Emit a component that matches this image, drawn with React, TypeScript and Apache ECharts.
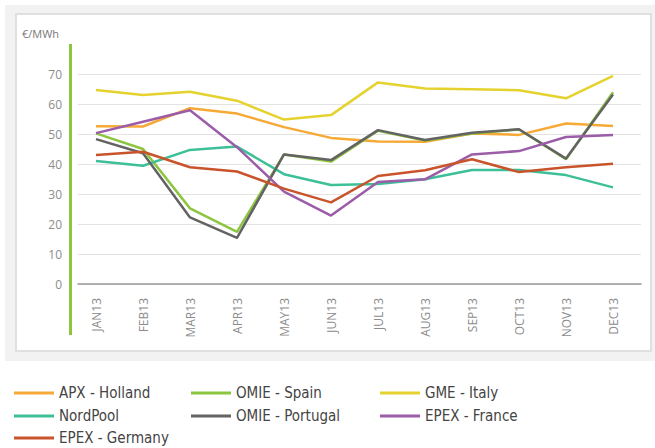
import React, { useEffect, useRef } from "react";
import * as echarts from "echarts";

const months = ["JAN13", "FEB13", "MAR13", "APR13", "MAY13", "JUN13", "JUL13", "AUG13", "SEP13", "OCT13", "NOV13", "DEC13"];

const apxHolland = [52.6, 52.5, 58.6, 56.8, 52.3, 48.7, 47.5, 47.4, 50.2, 49.7, 53.5, 52.7];
const omieSpain = [50.2, 45.0, 25.2, 17.4, 43.2, 40.8, 51.1, 47.8, 50.2, 51.5, 41.6, 63.9];
const gmeItaly = [64.7, 63.0, 64.1, 61.1, 54.8, 56.3, 67.2, 65.2, 64.9, 64.6, 61.9, 69.4];
const nordPool = [41.0, 39.4, 44.7, 45.8, 36.6, 33.0, 33.3, 34.9, 38.0, 38.0, 36.3, 32.2];
const omiePortugal = [48.3, 43.6, 22.2, 15.4, 43.2, 41.3, 51.3, 48.0, 50.4, 51.6, 41.8, 63.2];
const epexFrance = [50.3, 54.1, 57.9, 45.6, 30.8, 22.8, 34.0, 34.9, 43.2, 44.3, 49.0, 49.7];
const epexGermany = [43.0, 44.1, 38.9, 37.5, 31.8, 27.2, 36.0, 37.9, 41.6, 37.3, 38.9, 40.1];

const seriesNames = ["APX - Holland", "OMIE - Spain", "GME - Italy", "NordPool", "OMIE - Portugal", "EPEX - France", "EPEX - Germany"];
const seriesData = [apxHolland, omieSpain, gmeItaly, nordPool, omiePortugal, epexFrance, epexGermany];
const seriesColors = ["#f7a935", "#8cc63e", "#e5d22e", "#3dbf98", "#636363", "#9b5ca8", "#c9532b"];

const yTicks = { min: 0, max: 70, interval: 10 };

const legendCols = [14, 191, 380];
const legendRows = [393, 416, 438];

export default function App() {
  const ref = useRef<HTMLDivElement>(null);
  useEffect(() => {
    document.body.style.margin = "0";
    const chart = echarts.init(ref.current!, null, { renderer: "svg" });
    const axisFont = "'Open Sans', 'Noto Sans', sans-serif";
    const legendFont = "'Liberation Sans Narrow', 'DejaVu Sans Condensed', sans-serif";
    const legendText = { color: "#444", fontSize: 15, fontFamily: legendFont, lineHeight: 18 };
    const legends = seriesNames.map((name, i) => ({
      orient: "horizontal" as const,
      icon: "rect",
      itemWidth: 40,
      itemHeight: 3,
      padding: 0,
      left: legendCols[i % 3],
      top: legendRows[Math.floor(i / 3)] - 9,
      textStyle: legendText,
      selectedMode: false,
      data: [name],
    }));
    chart.setOption({
      animation: false,
      grid: [
        { left: 78, right: 14, top: 74, bottom: 164 },
        { left: 96, right: 42, top: 74, bottom: 164 },
      ],
      xAxis: [
        {
          type: "category",
          gridIndex: 0,
          data: months,
          axisLabel: { show: false },
          axisTick: { show: false },
          axisLine: { show: true, lineStyle: { color: "#9a9a9a", width: 1.5 } },
        },
        {
          type: "category",
          gridIndex: 1,
          data: months,
          boundaryGap: false,
          axisLine: { show: false },
          axisTick: { show: false },
          axisLabel: { rotate: 90, margin: 14, color: "#8c8c8c", fontSize: 12, fontFamily: axisFont, interval: 0 },
        },
      ],
      yAxis: [
        {
          type: "value",
          gridIndex: 0,
          min: yTicks.min,
          max: yTicks.max,
          interval: yTicks.interval,
          axisLine: { show: false },
          axisTick: { show: false },
          axisLabel: { margin: 16, color: "#8c8c8c", fontSize: 12, fontFamily: axisFont },
          splitLine: { lineStyle: { color: "#e3e3e3", width: 1 } },
        },
        {
          type: "value",
          gridIndex: 1,
          min: yTicks.min,
          max: yTicks.max,
          interval: yTicks.interval,
          show: false,
        },
      ],
      legend: legends,
      graphic: [
        { type: "rect", shape: { x: 69, y: 44, width: 3, height: 291 }, style: { fill: "#8cc63e" } },
        {
          type: "text",
          x: 22,
          y: 33,
          style: { text: "€/MWh", fill: "#777", fontSize: 11, fontFamily: axisFont, verticalAlign: "middle" },
        },
      ],
      series: seriesNames.map((name, i) => ({
        name,
        type: "line",
        xAxisIndex: 1,
        yAxisIndex: 1,
        data: seriesData[i],
        symbol: "none",
        color: seriesColors[i],
        lineStyle: { width: 2.5, color: seriesColors[i] },
      })),
    });
    return () => chart.dispose();
  }, []);
  return (
    <div style={{ position: "fixed", left: 0, top: 0, width: 655, height: 448, background: "#fff" }}>
      <div style={{ position: "absolute", left: 5, top: 5, width: 650, height: 356, background: "#f2f2f2" }} />
      <div
        style={{
          position: "absolute",
          left: 15,
          top: 13,
          width: 637,
          height: 339,
          background: "#fff",
          border: "2px solid #e0e0e0",
          boxSizing: "border-box",
        }}
      />
      <div ref={ref} style={{ position: "absolute", left: 0, top: 0, width: 655, height: 448 }} />
    </div>
  );
}
